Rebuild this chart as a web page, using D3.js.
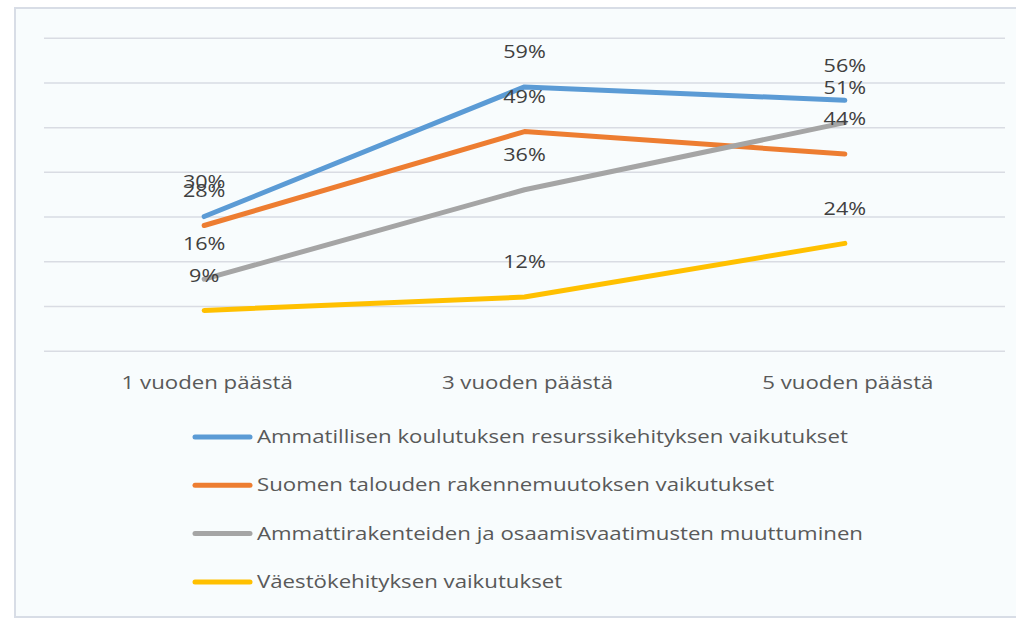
<!DOCTYPE html>
<html><head><meta charset="utf-8">
<script src="https://cdn.jsdelivr.net/npm/d3@7"></script>
<style>
html,body{margin:0;padding:0;background:#fff;}
svg{display:block;}
text{font-family:"Open Sans",Lato,sans-serif;}
</style></head>
<body><svg id="c" width="1016" height="619"></svg>
<script>
const categories = ["1 vuoden päästä","3 vuoden päästä","5 vuoden päästä"];
const seriesNames = [
  "Ammatillisen koulutuksen resurssikehityksen vaikutukset",
  "Suomen talouden rakennemuutoksen vaikutukset",
  "Ammattirakenteiden ja osaamisvaatimusten muuttuminen",
  "Väestökehityksen vaikutukset"
];
const blueValues = [30, 59, 56];
const orangeValues = [28, 49, 44];
const greyValues = [16, 36, 51];
const yellowValues = [9, 12, 24];
const colors = ["#5b9bd5","#ed7d31","#a5a5a5","#ffc000"];
const gridTicks = [0,10,20,30,40,50,60,70];

const series = [blueValues, orangeValues, greyValues, yellowValues].map((v,i)=>({name:seriesNames[i], color:colors[i], values:v}));

const svg = d3.select("#c");
svg.append("rect").attr("x",15).attr("y",8).attr("width",1040).attr("height",609)
  .attr("fill","#f8fcfd").attr("stroke","#d8dde6").attr("stroke-width",2);

const x = d3.scaleBand().domain(categories).range([44,1005]);
const y = d3.scaleLinear().domain([0,70]).range([350.7,37.7]);
const cx = c => x(c) + x.bandwidth()/2;

// gridlines
const yAxis = d3.axisLeft(y).tickValues(gridTicks).tickSize(-(1005-44)).tickFormat("");
const gy = svg.append("g").attr("transform","translate(44,0)").call(yAxis);
gy.select(".domain").remove();
gy.selectAll(".tick line").attr("stroke","#d9dce3").attr("stroke-width",1.5);

// x axis labels
const xAxis = d3.axisBottom(x).tickSize(0).tickPadding(0);
const gx = svg.append("g").attr("transform","translate(3,383)").call(xAxis);
gx.select(".domain").remove();
gx.selectAll(".tick text").attr("fill","#595959").attr("font-size","17.5px")
  .attr("dy","0.35em").attr("y",0).attr("transform","scale(1.27,1)")
  .style("font-family",'"Open Sans",Lato,sans-serif');

// lines
const line = d3.line().x((d,i)=>cx(categories[i])).y(d=>y(d));
svg.selectAll("path.series").data(series).join("path").attr("class","series")
  .attr("d",d=>line(d.values)).attr("fill","none").attr("stroke",d=>d.color)
  .attr("stroke-width",5).attr("stroke-linecap","round").attr("stroke-linejoin","round");

// data labels
series.forEach(s=>{
  svg.append("g").selectAll("text").data(s.values).join("text")
    .attr("transform",(d,i)=>`translate(${cx(categories[i])},${y(d)-35}) scale(1.2,1)`)
    .attr("dy","0.35em").attr("text-anchor","middle")
    .attr("fill","#404040").attr("font-size","18px").text(d=>d+"%");
});

// legend
const lg = svg.append("g");
series.forEach((s,i)=>{
  const yy = 437 + i*48.3;
  lg.append("line").attr("x1",195).attr("x2",250).attr("y1",yy).attr("y2",yy)
    .attr("stroke",s.color).attr("stroke-width",5).attr("stroke-linecap","round");
  lg.append("text").attr("transform",`translate(257,${yy}) scale(1.27,1)`).attr("dy","0.35em")
    .attr("fill","#595959").attr("font-size","17.5px").text(s.name);
});
</script></body></html>
